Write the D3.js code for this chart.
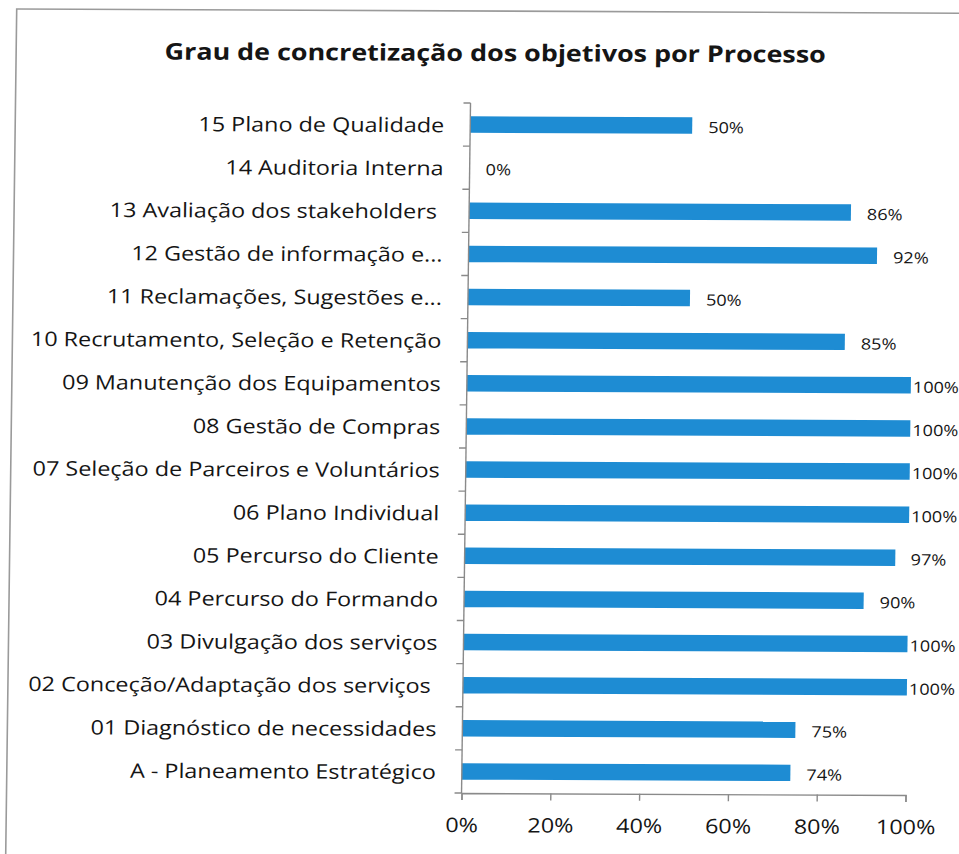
<!DOCTYPE html>
<html>
<head>
<meta charset="utf-8">
<script src="https://cdn.jsdelivr.net/npm/d3@7"></script>
<style>
  body { margin: 0; background: #fff; }
  text { font-family: "Open Sans", Lato, sans-serif; fill: #151515; }
</style>
</head>
<body>
<div id="chart"></div>
<script>
// data, top to bottom as in the picture
var processes = [
  "15 Plano de Qualidade",
  "14 Auditoria Interna",
  "13 Avaliação dos stakeholders ",
  "12 Gestão de informação e...",
  "11 Reclamações, Sugestões e...",
  "10 Recrutamento, Seleção e Retenção",
  "09 Manutenção dos Equipamentos",
  "08 Gestão de Compras",
  "07 Seleção de Parceiros e Voluntários",
  "06 Plano Individual",
  "05 Percurso do Cliente",
  "04 Percurso do Formando",
  "03 Divulgação dos serviços",
  "02 Conceção/Adaptação dos serviços ",
  "01 Diagnóstico de necessidades",
  "A - Planeamento Estratégico"
];
var values = [0.50, 0.00, 0.86, 0.92, 0.50, 0.85, 1.00, 1.00, 1.00, 1.00, 0.97, 0.90, 1.00, 1.00, 0.75, 0.74];
var xTicks = [0, 0.2, 0.4, 0.6, 0.8, 1.0];
var title = "Grau de concretização dos objetivos por Processo";

var W = 959, H = 854;
var margin = {top: 103, left: 466, right: 49, bottom: 61};
var stretch = 1.17;   // the scanned text is wider than the font

function place(px, py) {
  return "translate(" + px + "," + py + ") scale(" + stretch + ",1)";
}

var svg = d3.select("#chart").append("svg")
  .attr("width", W)
  .attr("height", H);

// the scan is slightly skewed
var page = svg.append("g")
  .attr("transform", "translate(466,450) matrix(1,0.0045,-0.013,1,0,0) translate(-466,-450)");

// frame of the chart area
page.append("rect")
  .attr("x", 11).attr("y", 11)
  .attr("width", 1000).attr("height", 900)
  .attr("fill", "none")
  .attr("stroke", "#9a9a9a")
  .attr("stroke-width", 1.6);

page.append("text")
  .attr("transform", place(490, 61))
  .attr("text-anchor", "middle")
  .style("font-size", "23px")
  .style("font-weight", "bold")
  .text(title);

var x = d3.scaleLinear().domain([0, 1]).range([margin.left, W - margin.right]);
var y = d3.scaleBand().domain(processes).range([margin.top, H - margin.bottom]).paddingInner(0.62).paddingOuter(0.31);
var yOuter = d3.scaleBand().domain(processes).range([margin.top, H - margin.bottom]);

// bars
page.selectAll(".bar")
  .data(values)
  .enter()
  .append("rect")
  .attr("class", "bar")
  .attr("x", x(0))
  .attr("y", function(d, i){ return y(processes[i]); })
  .attr("width", function(d){ return x(d) - x(0); })
  .attr("height", y.bandwidth())
  .attr("fill", "#1e8cd3");

// value labels
page.selectAll(".val")
  .data(values)
  .enter()
  .append("text")
  .attr("class", "val")
  .attr("transform", function(d, i){
    return place(Math.min(x(d) + 16, x(1) + 2), y(processes[i]) + y.bandwidth() / 2 + 1.5);
  })
  .attr("dominant-baseline", "central")
  .style("font-size", "15.5px")
  .text(function(d){ return Math.round(d * 100) + "%"; });

// y axis
var yAxis = page.append("g")
  .attr("transform", "translate(" + margin.left + ",0)");
yAxis.append("line")
  .attr("y1", margin.top).attr("y2", H - margin.bottom)
  .attr("stroke", "#8a8a8a").attr("stroke-width", 1.4);
yAxis.selectAll(".ytick")
  .data(processes)
  .enter()
  .append("line")
  .attr("x1", -7).attr("x2", 0)
  .attr("y1", function(d){ return yOuter(d); })
  .attr("y2", function(d){ return yOuter(d); })
  .attr("stroke", "#8a8a8a").attr("stroke-width", 1.4);
yAxis.append("line")
  .attr("x1", -7).attr("x2", 0)
  .attr("y1", H - margin.bottom).attr("y2", H - margin.bottom)
  .attr("stroke", "#8a8a8a").attr("stroke-width", 1.4);
yAxis.selectAll(".ylab")
  .data(processes)
  .enter()
  .append("text")
  .attr("transform", function(d){ return place(-26, yOuter(d) + yOuter.bandwidth() / 2); })
  .attr("text-anchor", "end")
  .attr("dominant-baseline", "central")
  .style("font-size", "20px")
  .style("white-space", "pre")
  .text(function(d){ return d; });

// x axis
var xAxis = d3.axisBottom(x)
  .tickValues(xTicks)
  .tickSize(7)
  .tickPadding(18)
  .tickFormat(d3.format(".0%"));
var gx = page.append("g")
  .attr("transform", "translate(0," + (H - margin.bottom) + ")")
  .call(xAxis);
gx.select(".domain").attr("stroke", "#8a8a8a").attr("stroke-width", 1.4);
gx.selectAll(".tick line").attr("stroke", "#8a8a8a").attr("stroke-width", 1.4);
gx.selectAll(".tick text")
  .attr("transform", "scale(" + stretch + ",1)")
  .attr("x", 0)
  .style("font-family", "'Open Sans', Lato, sans-serif")
  .style("font-size", "20px")
  .attr("fill", "#151515");
</script>
</body>
</html>
